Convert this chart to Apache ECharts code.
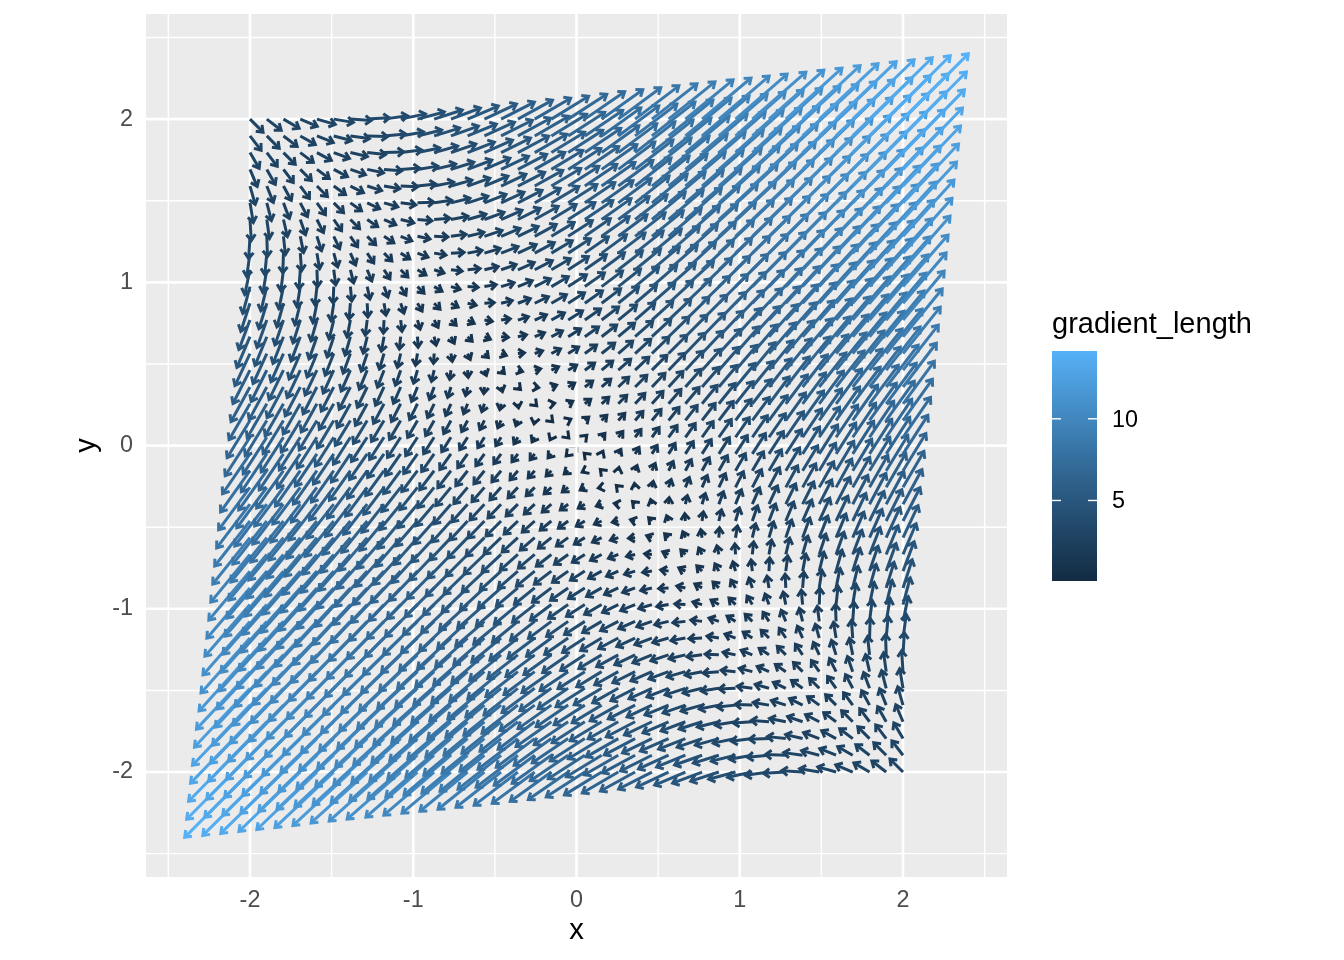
<!DOCTYPE html>
<html>
<head>
<meta charset="utf-8">
<title>gradient field</title>
<script src="https://cdn.jsdelivr.net/npm/echarts@6/dist/echarts.min.js"></script>
<style>
html, body { margin: 0; padding: 0; background: #fff; }
#chart { width: 1344px; height: 960px; }
</style>
</head>
<body>
<div id="chart"></div>
<script>
// grid the arrows start from
const gridX = [-2,-1.897,-1.795,-1.692,-1.59,-1.487,-1.385,-1.282,-1.179,-1.077,-0.974,-0.872,-0.769,-0.667,-0.564,-0.462,-0.359,-0.256,-0.154,-0.051,0.051,0.154,0.256,0.359,0.462,0.564,0.667,0.769,0.872,0.974,1.077,1.179,1.282,1.385,1.487,1.59,1.692,1.795,1.897,2];
const gridY = [2,1.897,1.795,1.692,1.59,1.487,1.385,1.282,1.179,1.077,0.974,0.872,0.769,0.667,0.564,0.462,0.359,0.256,0.154,0.051,-0.051,-0.154,-0.256,-0.359,-0.462,-0.564,-0.667,-0.769,-0.872,-0.974,-1.077,-1.179,-1.282,-1.385,-1.487,-1.59,-1.692,-1.795,-1.897,-2];

// gradient x component in tenths, one row per gridY
const gradXTenths = [
[20,22,24,26,28,30,32,34,36,38,41,43,45,47,49,51,53,55,57,59,61,63,65,67,69,71,73,75,77,79,82,84,86,88,90,92,94,96,98,100],
[17,19,21,23,25,27,29,31,33,35,37,39,42,44,46,48,50,52,54,56,58,60,62,64,66,68,70,72,74,76,78,81,83,85,87,89,91,93,95,97],
[14,16,18,20,22,24,26,28,30,32,34,36,38,41,43,45,47,49,51,53,55,57,59,61,63,65,67,69,71,73,75,77,79,82,84,86,88,90,92,94],
[11,13,15,17,19,21,23,25,27,29,31,33,35,37,39,42,44,46,48,50,52,54,56,58,60,62,64,66,68,70,72,74,76,78,81,83,85,87,89,91],
[8,10,12,14,16,18,20,22,24,26,28,30,32,34,36,38,41,43,45,47,49,51,53,55,57,59,61,63,65,67,69,71,73,75,77,79,82,84,86,88],
[5,7,9,11,13,15,17,19,21,23,25,27,29,31,33,35,37,39,42,44,46,48,50,52,54,56,58,60,62,64,66,68,70,72,74,76,78,81,83,85],
[2,4,6,8,10,12,14,16,18,20,22,24,26,28,30,32,34,36,38,41,43,45,47,49,51,53,55,57,59,61,63,65,67,69,71,73,75,77,79,82],
[-2,1,3,5,7,9,11,13,15,17,19,21,23,25,27,29,31,33,35,37,39,42,44,46,48,50,52,54,56,58,60,62,64,66,68,70,72,74,76,78],
[-5,-3,-1,2,4,6,8,10,12,14,16,18,20,22,24,26,28,30,32,34,36,38,41,43,45,47,49,51,53,55,57,59,61,63,65,67,69,71,73,75],
[-8,-6,-4,-2,1,3,5,7,9,11,13,15,17,19,21,23,25,27,29,31,33,35,37,39,42,44,46,48,50,52,54,56,58,60,62,64,66,68,70,72],
[-11,-9,-7,-5,-3,-1,2,4,6,8,10,12,14,16,18,20,22,24,26,28,30,32,34,36,38,41,43,45,47,49,51,53,55,57,59,61,63,65,67,69],
[-14,-12,-10,-8,-6,-4,-2,1,3,5,7,9,11,13,15,17,19,21,23,25,27,29,31,33,35,37,39,42,44,46,48,50,52,54,56,58,60,62,64,66],
[-17,-15,-13,-11,-9,-7,-5,-3,-1,2,4,6,8,10,12,14,16,18,20,22,24,26,28,30,32,34,36,38,41,43,45,47,49,51,53,55,57,59,61,63],
[-20,-18,-16,-14,-12,-10,-8,-6,-4,-2,1,3,5,7,9,11,13,15,17,19,21,23,25,27,29,31,33,35,37,39,42,44,46,48,50,52,54,56,58,60],
[-23,-21,-19,-17,-15,-13,-11,-9,-7,-5,-3,-1,2,4,6,8,10,12,14,16,18,20,22,24,26,28,30,32,34,36,38,41,43,45,47,49,51,53,55,57],
[-26,-24,-22,-20,-18,-16,-14,-12,-10,-8,-6,-4,-2,1,3,5,7,9,11,13,15,17,19,21,23,25,27,29,31,33,35,37,39,42,44,46,48,50,52,54],
[-29,-27,-25,-23,-21,-19,-17,-15,-13,-11,-9,-7,-5,-3,-1,2,4,6,8,10,12,14,16,18,20,22,24,26,28,30,32,34,36,38,41,43,45,47,49,51],
[-32,-30,-28,-26,-24,-22,-20,-18,-16,-14,-12,-10,-8,-6,-4,-2,1,3,5,7,9,11,13,15,17,19,21,23,25,27,29,31,33,35,37,39,42,44,46,48],
[-35,-33,-31,-29,-27,-25,-23,-21,-19,-17,-15,-13,-11,-9,-7,-5,-3,-1,2,4,6,8,10,12,14,16,18,20,22,24,26,28,30,32,34,36,38,41,43,45],
[-38,-36,-34,-32,-30,-28,-26,-24,-22,-20,-18,-16,-14,-12,-10,-8,-6,-4,-2,1,3,5,7,9,11,13,15,17,19,21,23,25,27,29,31,33,35,37,39,42],
[-42,-39,-37,-35,-33,-31,-29,-27,-25,-23,-21,-19,-17,-15,-13,-11,-9,-7,-5,-3,-1,2,4,6,8,10,12,14,16,18,20,22,24,26,28,30,32,34,36,38],
[-45,-43,-41,-38,-36,-34,-32,-30,-28,-26,-24,-22,-20,-18,-16,-14,-12,-10,-8,-6,-4,-2,1,3,5,7,9,11,13,15,17,19,21,23,25,27,29,31,33,35],
[-48,-46,-44,-42,-39,-37,-35,-33,-31,-29,-27,-25,-23,-21,-19,-17,-15,-13,-11,-9,-7,-5,-3,-1,2,4,6,8,10,12,14,16,18,20,22,24,26,28,30,32],
[-51,-49,-47,-45,-43,-41,-38,-36,-34,-32,-30,-28,-26,-24,-22,-20,-18,-16,-14,-12,-10,-8,-6,-4,-2,1,3,5,7,9,11,13,15,17,19,21,23,25,27,29],
[-54,-52,-50,-48,-46,-44,-42,-39,-37,-35,-33,-31,-29,-27,-25,-23,-21,-19,-17,-15,-13,-11,-9,-7,-5,-3,-1,2,4,6,8,10,12,14,16,18,20,22,24,26],
[-57,-55,-53,-51,-49,-47,-45,-43,-41,-38,-36,-34,-32,-30,-28,-26,-24,-22,-20,-18,-16,-14,-12,-10,-8,-6,-4,-2,1,3,5,7,9,11,13,15,17,19,21,23],
[-60,-58,-56,-54,-52,-50,-48,-46,-44,-42,-39,-37,-35,-33,-31,-29,-27,-25,-23,-21,-19,-17,-15,-13,-11,-9,-7,-5,-3,-1,2,4,6,8,10,12,14,16,18,20],
[-63,-61,-59,-57,-55,-53,-51,-49,-47,-45,-43,-41,-38,-36,-34,-32,-30,-28,-26,-24,-22,-20,-18,-16,-14,-12,-10,-8,-6,-4,-2,1,3,5,7,9,11,13,15,17],
[-66,-64,-62,-60,-58,-56,-54,-52,-50,-48,-46,-44,-42,-39,-37,-35,-33,-31,-29,-27,-25,-23,-21,-19,-17,-15,-13,-11,-9,-7,-5,-3,-1,2,4,6,8,10,12,14],
[-69,-67,-65,-63,-61,-59,-57,-55,-53,-51,-49,-47,-45,-43,-41,-38,-36,-34,-32,-30,-28,-26,-24,-22,-20,-18,-16,-14,-12,-10,-8,-6,-4,-2,1,3,5,7,9,11],
[-72,-70,-68,-66,-64,-62,-60,-58,-56,-54,-52,-50,-48,-46,-44,-42,-39,-37,-35,-33,-31,-29,-27,-25,-23,-21,-19,-17,-15,-13,-11,-9,-7,-5,-3,-1,2,4,6,8],
[-75,-73,-71,-69,-67,-65,-63,-61,-59,-57,-55,-53,-51,-49,-47,-45,-43,-41,-38,-36,-34,-32,-30,-28,-26,-24,-22,-20,-18,-16,-14,-12,-10,-8,-6,-4,-2,1,3,5],
[-78,-76,-74,-72,-70,-68,-66,-64,-62,-60,-58,-56,-54,-52,-50,-48,-46,-44,-42,-39,-37,-35,-33,-31,-29,-27,-25,-23,-21,-19,-17,-15,-13,-11,-9,-7,-5,-3,-1,2],
[-82,-79,-77,-75,-73,-71,-69,-67,-65,-63,-61,-59,-57,-55,-53,-51,-49,-47,-45,-43,-41,-38,-36,-34,-32,-30,-28,-26,-24,-22,-20,-18,-16,-14,-12,-10,-8,-6,-4,-2],
[-85,-83,-81,-78,-76,-74,-72,-70,-68,-66,-64,-62,-60,-58,-56,-54,-52,-50,-48,-46,-44,-42,-39,-37,-35,-33,-31,-29,-27,-25,-23,-21,-19,-17,-15,-13,-11,-9,-7,-5],
[-88,-86,-84,-82,-79,-77,-75,-73,-71,-69,-67,-65,-63,-61,-59,-57,-55,-53,-51,-49,-47,-45,-43,-41,-38,-36,-34,-32,-30,-28,-26,-24,-22,-20,-18,-16,-14,-12,-10,-8],
[-91,-89,-87,-85,-83,-81,-78,-76,-74,-72,-70,-68,-66,-64,-62,-60,-58,-56,-54,-52,-50,-48,-46,-44,-42,-39,-37,-35,-33,-31,-29,-27,-25,-23,-21,-19,-17,-15,-13,-11],
[-94,-92,-90,-88,-86,-84,-82,-79,-77,-75,-73,-71,-69,-67,-65,-63,-61,-59,-57,-55,-53,-51,-49,-47,-45,-43,-41,-38,-36,-34,-32,-30,-28,-26,-24,-22,-20,-18,-16,-14],
[-97,-95,-93,-91,-89,-87,-85,-83,-81,-78,-76,-74,-72,-70,-68,-66,-64,-62,-60,-58,-56,-54,-52,-50,-48,-46,-44,-42,-39,-37,-35,-33,-31,-29,-27,-25,-23,-21,-19,-17],
[-100,-98,-96,-94,-92,-90,-88,-86,-84,-82,-79,-77,-75,-73,-71,-69,-67,-65,-63,-61,-59,-57,-55,-53,-51,-49,-47,-45,-43,-41,-38,-36,-34,-32,-30,-28,-26,-24,-22,-20],
];

// gradient y component in tenths, same layout
const gradYTenths = [
[-20,-17,-14,-11,-8,-5,-2,2,5,8,11,14,17,20,23,26,29,32,35,38,42,45,48,51,54,57,60,63,66,69,72,75,78,82,85,88,91,94,97,100],
[-22,-19,-16,-13,-10,-7,-4,-1,3,6,9,12,15,18,21,24,27,30,33,36,39,43,46,49,52,55,58,61,64,67,70,73,76,79,83,86,89,92,95,98],
[-24,-21,-18,-15,-12,-9,-6,-3,1,4,7,10,13,16,19,22,25,28,31,34,37,41,44,47,50,53,56,59,62,65,68,71,74,77,81,84,87,90,93,96],
[-26,-23,-20,-17,-14,-11,-8,-5,-2,2,5,8,11,14,17,20,23,26,29,32,35,38,42,45,48,51,54,57,60,63,66,69,72,75,78,82,85,88,91,94],
[-28,-25,-22,-19,-16,-13,-10,-7,-4,-1,3,6,9,12,15,18,21,24,27,30,33,36,39,43,46,49,52,55,58,61,64,67,70,73,76,79,83,86,89,92],
[-30,-27,-24,-21,-18,-15,-12,-9,-6,-3,1,4,7,10,13,16,19,22,25,28,31,34,37,41,44,47,50,53,56,59,62,65,68,71,74,77,81,84,87,90],
[-32,-29,-26,-23,-20,-17,-14,-11,-8,-5,-2,2,5,8,11,14,17,20,23,26,29,32,35,38,42,45,48,51,54,57,60,63,66,69,72,75,78,82,85,88],
[-34,-31,-28,-25,-22,-19,-16,-13,-10,-7,-4,-1,3,6,9,12,15,18,21,24,27,30,33,36,39,43,46,49,52,55,58,61,64,67,70,73,76,79,83,86],
[-36,-33,-30,-27,-24,-21,-18,-15,-12,-9,-6,-3,1,4,7,10,13,16,19,22,25,28,31,34,37,41,44,47,50,53,56,59,62,65,68,71,74,77,81,84],
[-38,-35,-32,-29,-26,-23,-20,-17,-14,-11,-8,-5,-2,2,5,8,11,14,17,20,23,26,29,32,35,38,42,45,48,51,54,57,60,63,66,69,72,75,78,82],
[-41,-37,-34,-31,-28,-25,-22,-19,-16,-13,-10,-7,-4,-1,3,6,9,12,15,18,21,24,27,30,33,36,39,43,46,49,52,55,58,61,64,67,70,73,76,79],
[-43,-39,-36,-33,-30,-27,-24,-21,-18,-15,-12,-9,-6,-3,1,4,7,10,13,16,19,22,25,28,31,34,37,41,44,47,50,53,56,59,62,65,68,71,74,77],
[-45,-42,-38,-35,-32,-29,-26,-23,-20,-17,-14,-11,-8,-5,-2,2,5,8,11,14,17,20,23,26,29,32,35,38,42,45,48,51,54,57,60,63,66,69,72,75],
[-47,-44,-41,-37,-34,-31,-28,-25,-22,-19,-16,-13,-10,-7,-4,-1,3,6,9,12,15,18,21,24,27,30,33,36,39,43,46,49,52,55,58,61,64,67,70,73],
[-49,-46,-43,-39,-36,-33,-30,-27,-24,-21,-18,-15,-12,-9,-6,-3,1,4,7,10,13,16,19,22,25,28,31,34,37,41,44,47,50,53,56,59,62,65,68,71],
[-51,-48,-45,-42,-38,-35,-32,-29,-26,-23,-20,-17,-14,-11,-8,-5,-2,2,5,8,11,14,17,20,23,26,29,32,35,38,42,45,48,51,54,57,60,63,66,69],
[-53,-50,-47,-44,-41,-37,-34,-31,-28,-25,-22,-19,-16,-13,-10,-7,-4,-1,3,6,9,12,15,18,21,24,27,30,33,36,39,43,46,49,52,55,58,61,64,67],
[-55,-52,-49,-46,-43,-39,-36,-33,-30,-27,-24,-21,-18,-15,-12,-9,-6,-3,1,4,7,10,13,16,19,22,25,28,31,34,37,41,44,47,50,53,56,59,62,65],
[-57,-54,-51,-48,-45,-42,-38,-35,-32,-29,-26,-23,-20,-17,-14,-11,-8,-5,-2,2,5,8,11,14,17,20,23,26,29,32,35,38,42,45,48,51,54,57,60,63],
[-59,-56,-53,-50,-47,-44,-41,-37,-34,-31,-28,-25,-22,-19,-16,-13,-10,-7,-4,-1,3,6,9,12,15,18,21,24,27,30,33,36,39,43,46,49,52,55,58,61],
[-61,-58,-55,-52,-49,-46,-43,-39,-36,-33,-30,-27,-24,-21,-18,-15,-12,-9,-6,-3,1,4,7,10,13,16,19,22,25,28,31,34,37,41,44,47,50,53,56,59],
[-63,-60,-57,-54,-51,-48,-45,-42,-38,-35,-32,-29,-26,-23,-20,-17,-14,-11,-8,-5,-2,2,5,8,11,14,17,20,23,26,29,32,35,38,42,45,48,51,54,57],
[-65,-62,-59,-56,-53,-50,-47,-44,-41,-37,-34,-31,-28,-25,-22,-19,-16,-13,-10,-7,-4,-1,3,6,9,12,15,18,21,24,27,30,33,36,39,43,46,49,52,55],
[-67,-64,-61,-58,-55,-52,-49,-46,-43,-39,-36,-33,-30,-27,-24,-21,-18,-15,-12,-9,-6,-3,1,4,7,10,13,16,19,22,25,28,31,34,37,41,44,47,50,53],
[-69,-66,-63,-60,-57,-54,-51,-48,-45,-42,-38,-35,-32,-29,-26,-23,-20,-17,-14,-11,-8,-5,-2,2,5,8,11,14,17,20,23,26,29,32,35,38,42,45,48,51],
[-71,-68,-65,-62,-59,-56,-53,-50,-47,-44,-41,-37,-34,-31,-28,-25,-22,-19,-16,-13,-10,-7,-4,-1,3,6,9,12,15,18,21,24,27,30,33,36,39,43,46,49],
[-73,-70,-67,-64,-61,-58,-55,-52,-49,-46,-43,-39,-36,-33,-30,-27,-24,-21,-18,-15,-12,-9,-6,-3,1,4,7,10,13,16,19,22,25,28,31,34,37,41,44,47],
[-75,-72,-69,-66,-63,-60,-57,-54,-51,-48,-45,-42,-38,-35,-32,-29,-26,-23,-20,-17,-14,-11,-8,-5,-2,2,5,8,11,14,17,20,23,26,29,32,35,38,42,45],
[-77,-74,-71,-68,-65,-62,-59,-56,-53,-50,-47,-44,-41,-37,-34,-31,-28,-25,-22,-19,-16,-13,-10,-7,-4,-1,3,6,9,12,15,18,21,24,27,30,33,36,39,43],
[-79,-76,-73,-70,-67,-64,-61,-58,-55,-52,-49,-46,-43,-39,-36,-33,-30,-27,-24,-21,-18,-15,-12,-9,-6,-3,1,4,7,10,13,16,19,22,25,28,31,34,37,41],
[-82,-78,-75,-72,-69,-66,-63,-60,-57,-54,-51,-48,-45,-42,-38,-35,-32,-29,-26,-23,-20,-17,-14,-11,-8,-5,-2,2,5,8,11,14,17,20,23,26,29,32,35,38],
[-84,-81,-77,-74,-71,-68,-65,-62,-59,-56,-53,-50,-47,-44,-41,-37,-34,-31,-28,-25,-22,-19,-16,-13,-10,-7,-4,-1,3,6,9,12,15,18,21,24,27,30,33,36],
[-86,-83,-79,-76,-73,-70,-67,-64,-61,-58,-55,-52,-49,-46,-43,-39,-36,-33,-30,-27,-24,-21,-18,-15,-12,-9,-6,-3,1,4,7,10,13,16,19,22,25,28,31,34],
[-88,-85,-82,-78,-75,-72,-69,-66,-63,-60,-57,-54,-51,-48,-45,-42,-38,-35,-32,-29,-26,-23,-20,-17,-14,-11,-8,-5,-2,2,5,8,11,14,17,20,23,26,29,32],
[-90,-87,-84,-81,-77,-74,-71,-68,-65,-62,-59,-56,-53,-50,-47,-44,-41,-37,-34,-31,-28,-25,-22,-19,-16,-13,-10,-7,-4,-1,3,6,9,12,15,18,21,24,27,30],
[-92,-89,-86,-83,-79,-76,-73,-70,-67,-64,-61,-58,-55,-52,-49,-46,-43,-39,-36,-33,-30,-27,-24,-21,-18,-15,-12,-9,-6,-3,1,4,7,10,13,16,19,22,25,28],
[-94,-91,-88,-85,-82,-78,-75,-72,-69,-66,-63,-60,-57,-54,-51,-48,-45,-42,-38,-35,-32,-29,-26,-23,-20,-17,-14,-11,-8,-5,-2,2,5,8,11,14,17,20,23,26],
[-96,-93,-90,-87,-84,-81,-77,-74,-71,-68,-65,-62,-59,-56,-53,-50,-47,-44,-41,-37,-34,-31,-28,-25,-22,-19,-16,-13,-10,-7,-4,-1,3,6,9,12,15,18,21,24],
[-98,-95,-92,-89,-86,-83,-79,-76,-73,-70,-67,-64,-61,-58,-55,-52,-49,-46,-43,-39,-36,-33,-30,-27,-24,-21,-18,-15,-12,-9,-6,-3,1,4,7,10,13,16,19,22],
[-100,-97,-94,-91,-88,-85,-82,-78,-75,-72,-69,-66,-63,-60,-57,-54,-51,-48,-45,-42,-38,-35,-32,-29,-26,-23,-20,-17,-14,-11,-8,-5,-2,2,5,8,11,14,17,20],
];

const majorTicks = [-2, -1, 0, 1, 2];
const minorTicks = [-2.5, -1.5, -0.5, 0.5, 1.5, 2.5];
const legendTicks = [5, 10];
const lengthMin = 0.07;
const lengthMax = 14.15;
// low to high, same as the default ggplot blues
const colorStops = ["#132B43", "#224A6C", "#336A98", "#448DC6", "#56B1F7"];

const arrowScale = 0.04; // data units per gradient unit
const headLength = 7.4;
const headAngle = (37 * Math.PI) / 180;
const fontFamily = '"Liberation Sans", Arial, sans-serif';

const lengthColor = (len) =>
  echarts.color.lerp((len - lengthMin) / (lengthMax - lengthMin), colorStops);

// bottom rows first, later arrows sit on top
const arrowData = [];
for (let r = gridY.length - 1; r >= 0; r--) {
  for (let i = 0; i < gridX.length; i++) {
    arrowData.push([gridX[i], gridY[r], gradXTenths[r][i] / 10, gradYTenths[r][i] / 10]);
  }
}

/** one arrow: shaft plus an open head */
const renderArrow = (params, api) => {
  const gx = api.value(2);
  const gy = api.value(3);
  const start = api.coord([api.value(0), api.value(1)]);
  const end = api.coord([api.value(0) + gx * arrowScale, api.value(1) + gy * arrowScale]);
  const angle = Math.atan2(end[1] - start[1], end[0] - start[0]);
  const barb = (side) => [
    end[0] - headLength * Math.cos(angle + side * headAngle),
    end[1] - headLength * Math.sin(angle + side * headAngle),
  ];
  const style = {
    stroke: lengthColor(Math.hypot(gx, gy)),
    lineWidth: 3,
    lineJoin: "miter",
    miterLimit: 10,
    lineCap: "butt",
    fill: null,
  };
  return {
    type: "group",
    children: [
      { type: "line", shape: { x1: start[0], y1: start[1], x2: end[0], y2: end[1] }, style },
      { type: "polyline", shape: { points: [barb(1), end, barb(-1)] }, style },
    ],
  };
};

/** panel grid lines, drawn under the arrows */
const gridSeries = (values, vertical, width) => ({
  type: "custom",
  silent: true,
  z: 1,
  data: values.map((v) => [v, v]),
  renderItem: (params, api) => {
    const p = api.coord([api.value(0), api.value(1)]);
    const c = params.coordSys;
    const shape = vertical
      ? { x1: p[0], y1: c.y, x2: p[0], y2: c.y + c.height }
      : { x1: c.x, y1: p[1], x2: c.x + c.width, y2: p[1] };
    return { type: "line", shape, style: { stroke: "#fff", lineWidth: width } };
  },
});

const axisBase = {
  type: "value",
  nameLocation: "middle",
  nameTextStyle: { color: "#000", fontSize: 29.3, fontFamily },
  axisLine: { show: false },
  axisTick: { length: 7.3, lineStyle: { color: "#333", width: 2.4 }, customValues: majorTicks },
  splitLine: { show: false },
  minorSplitLine: { show: false },
};

const labelStyle = { color: "#4D4D4D", fontSize: 23.4, fontFamily, customValues: majorTicks };

// legend colour bar
const barLeft = 1052;
const barRight = 1097;
const barTop = 351;
const barBottom = 581;
const legendY = (v) =>
  barBottom - ((v - lengthMin) / (lengthMax - lengthMin)) * (barBottom - barTop);

const legendGraphic = [
  {
    type: "text",
    left: barLeft,
    top: 310,
    style: { text: "gradient_length", fontSize: 29, fontFamily, fill: "#000" },
  },
  {
    type: "rect",
    shape: { x: barLeft, y: barTop, width: barRight - barLeft, height: barBottom - barTop },
    style: {
      fill: new echarts.graphic.LinearGradient(
        0, 1, 0, 0,
        colorStops.map((color, i) => ({ offset: i / (colorStops.length - 1), color }))
      ),
    },
  },
];
legendTicks.forEach((v) => {
  const y = legendY(v);
  [[barLeft, barLeft + 9], [barRight - 9, barRight]].forEach((t) => {
    legendGraphic.push({
      type: "line",
      z: 10,
      shape: { x1: t[0], y1: y, x2: t[1], y2: y },
      style: { stroke: "#fff", lineWidth: 1.4 },
    });
  });
  legendGraphic.push({
    type: "text",
    x: 1112,
    y: y + 1.5,
    style: {
      text: String(v),
      fontSize: 23.4,
      fontFamily,
      fill: "#000",
      verticalAlign: "middle",
    },
  });
});

const chart = echarts.init(document.getElementById("chart"), null, { renderer: "canvas" });
chart.setOption({
  animation: false,
  backgroundColor: "#fff",
  grid: {
    show: true,
    left: 146,
    top: 14,
    width: 861,
    height: 863,
    outerBoundsMode: "none",
    backgroundColor: "#EBEBEB",
    borderWidth: 0,
  },
  xAxis: {
    ...axisBase,
    name: "x",
    nameGap: 39,
    min: -2.637,
    max: 2.637,
    axisLabel: { ...labelStyle, margin: 12 },
  },
  yAxis: {
    ...axisBase,
    name: "y",
    nameGap: 40,
    min: -2.643,
    max: 2.644,
    axisLabel: { ...labelStyle, margin: 13, padding: [3, 0, 0, 0] },
  },
  graphic: legendGraphic,
  series: [
    gridSeries(minorTicks, true, 1.4),
    gridSeries(minorTicks, false, 1.4),
    gridSeries(majorTicks, true, 2.6),
    gridSeries(majorTicks, false, 2.6),
    {
      type: "custom",
      silent: true,
      z: 2,
      data: arrowData,
      renderItem: renderArrow,
    },
  ],
});
</script>
</body>
</html>
